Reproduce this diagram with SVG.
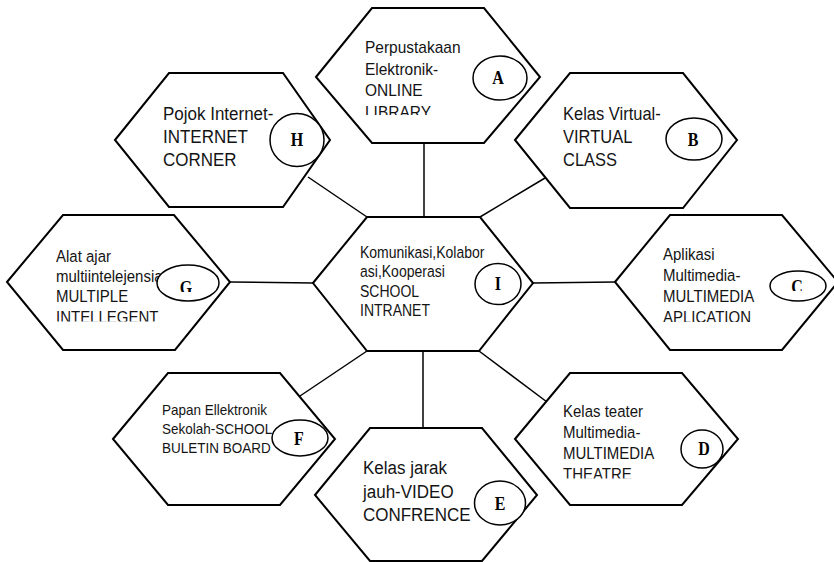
<svg xmlns="http://www.w3.org/2000/svg" width="834" height="562" viewBox="0 0 834 562">
  <style>
    .hex { fill: #fff; stroke: #000; stroke-width: 2; stroke-linejoin: miter; }
    .conn { stroke: #000; stroke-width: 1.5; fill: none; }
    .oval { fill: #fff; stroke: #000; stroke-width: 1.5; }
    .lbl { font-family: "Liberation Sans", Arial, sans-serif; fill: #141414; }
    .tag { font-family: "Liberation Serif", "Times New Roman", serif; font-weight: bold; font-size: 16px; fill: #000; text-anchor: middle; }
  </style>
  <defs>
    <clipPath id="clipA"><rect x="340" y="20" width="150" height="95"/></clipPath>
    <clipPath id="clipG"><rect x="30" y="230" width="160" height="91.5"/></clipPath>
    <clipPath id="clipGtag"><rect x="160" y="270" width="60" height="22"/></clipPath>
    <clipPath id="clipC"><rect x="640" y="230" width="140" height="92"/></clipPath>
    <clipPath id="clipCtag"><rect x="770" y="270" width="60" height="21"/></clipPath>
    <clipPath id="clipD"><rect x="540" y="390" width="150" height="88.5"/></clipPath>
  </defs>

  <rect width="834" height="562" fill="#fff"/>

  <!-- connectors between the hub and the outer cells -->
  <g id="connectors">
    <line class="conn" x1="424" y1="143" x2="424" y2="217"/>
    <line class="conn" x1="308" y1="177" x2="367" y2="217"/>
    <line class="conn" x1="545" y1="178" x2="480" y2="217"/>
    <line class="conn" x1="230" y1="282" x2="313" y2="283"/>
    <line class="conn" x1="533" y1="283" x2="615" y2="282"/>
    <line class="conn" x1="367" y1="351" x2="300" y2="396"/>
    <line class="conn" x1="423" y1="351" x2="423" y2="428"/>
    <line class="conn" x1="479" y1="351" x2="547" y2="402"/>
  </g>

  <!-- text is stretched 1.12x vertically about its own baseline -->
  <g id="node-A">
    <polygon class="hex" points="316,77 372,8 484,8 540,77 484,143 372,143"/>
    <g class="lbl" font-size="15.5" clip-path="url(#clipA)">
      <text x="365" y="53" transform="matrix(1,0,0,1.12,0,-6.36)">Perpustakaan</text>
      <text x="365" y="75" transform="matrix(1,0,0,1.12,0,-9)">Elektronik-</text>
      <text x="365" y="96.5" transform="matrix(1,0,0,1.12,0,-11.58)">ONLINE</text>
      <text x="365" y="118" transform="matrix(1,0,0,1.12,0,-14.16)">LIBRARY</text>
    </g>
    <ellipse class="oval" cx="500" cy="78" rx="27" ry="22"/>
    <text class="tag" x="498" y="84" transform="matrix(1,0,0,1.12,0,-10.08)">A</text>
  </g>

  <g id="node-H">
    <polygon class="hex" points="115,140 169,73 283,73 330,140 283,207 169,207"/>
    <g class="lbl" font-size="17">
      <text x="163" y="120" transform="matrix(1,0,0,1.12,0,-14.4)">Pojok Internet-</text>
      <text x="163" y="143" transform="matrix(1,0,0,1.12,0,-17.16)">INTERNET</text>
      <text x="163" y="166" transform="matrix(1,0,0,1.12,0,-19.92)">CORNER</text>
    </g>
    <ellipse class="oval" cx="297" cy="140" rx="27" ry="26.5"/>
    <text class="tag" x="297" y="146" transform="matrix(1,0,0,1.12,0,-17.52)">H</text>
  </g>

  <g id="node-B">
    <polygon class="hex" points="515,140 570,73 683,73 737,140 683,208 570,208"/>
    <g class="lbl" font-size="16.5">
      <text x="563" y="120" transform="matrix(1,0,0,1.12,0,-14.4)">Kelas Virtual-</text>
      <text x="563" y="143" transform="matrix(1,0,0,1.12,0,-17.16)">VIRTUAL</text>
      <text x="563" y="166" transform="matrix(1,0,0,1.12,0,-19.92)">CLASS</text>
    </g>
    <ellipse class="oval" cx="694" cy="139" rx="28" ry="21"/>
    <text class="tag" x="693" y="146" transform="matrix(1,0,0,1.12,0,-17.52)">B</text>
  </g>

  <g id="node-G">
    <polygon class="hex" points="7,282 63,215 174,215 230,282 175,350 63,350"/>
    <g class="lbl" font-size="15" clip-path="url(#clipG)">
      <text x="56" y="262" transform="matrix(1,0,0,1.12,0,-31.44)">Alat ajar</text>
      <text x="56" y="282" transform="matrix(1,0,0,1.12,0,-33.84)">multiintelejensia-</text>
      <text x="56" y="302" transform="matrix(1,0,0,1.12,0,-36.24)">MULTIPLE</text>
      <text x="56" y="323" transform="matrix(1,0,0,1.12,0,-38.76)">INTELLEGENT</text>
    </g>
    <ellipse class="oval" cx="188" cy="283" rx="31" ry="18"/>
    <g clip-path="url(#clipGtag)">
      <text class="tag" x="186" y="294" transform="matrix(1,0,0,1.12,0,-35.28)">G</text>
    </g>
  </g>

  <g id="node-I">
    <polygon class="hex" points="313,283 367,217 480,217 533,283 479,351 367,351"/>
    <g class="lbl" font-size="14">
      <text x="360" y="258" transform="matrix(1,0,0,1.12,0,-30.96)">Komunikasi,Kolabor</text>
      <text x="360" y="277" transform="matrix(1,0,0,1.12,0,-33.24)">asi,Kooperasi</text>
      <text x="360" y="297" transform="matrix(1,0,0,1.12,0,-35.64)">SCHOOL</text>
      <text x="360" y="316" transform="matrix(1,0,0,1.12,0,-37.92)">INTRANET</text>
    </g>
    <ellipse class="oval" cx="498" cy="284" rx="23" ry="20.5"/>
    <text class="tag" x="498" y="290" transform="matrix(1,0,0,1.12,0,-34.8)">I</text>
  </g>

  <g id="node-C">
    <polygon class="hex" points="615,282 670,215 782,215 838,282 782,350 670,350"/>
    <g class="lbl" font-size="15" clip-path="url(#clipC)">
      <text x="663" y="260" transform="matrix(1,0,0,1.12,0,-31.2)">Aplikasi</text>
      <text x="663" y="281" transform="matrix(1,0,0,1.12,0,-33.72)">Multimedia-</text>
      <text x="663" y="302" transform="matrix(1,0,0,1.12,0,-36.24)">MULTIMEDIA</text>
      <text x="663" y="323" transform="matrix(1,0,0,1.12,0,-38.76)">APLICATION</text>
    </g>
    <ellipse class="oval" cx="798" cy="286" rx="28" ry="15"/>
    <g clip-path="url(#clipCtag)">
      <text class="tag" x="797" y="293" transform="matrix(1,0,0,1.12,0,-35.16)">C</text>
    </g>
  </g>

  <g id="node-F">
    <polygon class="hex" points="113,439 168,373 280,373 335,439 280,505 168,505"/>
    <g class="lbl" font-size="13.5">
      <text x="162" y="415" transform="matrix(1,0,0,1.12,0,-49.8)">Papan Ellektronik</text>
      <text x="162" y="434" transform="matrix(1,0,0,1.12,0,-52.08)">Sekolah-SCHOOL</text>
      <text x="162" y="453" transform="matrix(1,0,0,1.12,0,-54.36)">BULETIN BOARD</text>
    </g>
    <ellipse class="oval" cx="300" cy="438" rx="28" ry="18"/>
    <text class="tag" x="299" y="445" transform="matrix(1,0,0,1.12,0,-53.4)">F</text>
  </g>

  <g id="node-E">
    <polygon class="hex" points="315,495 370,428 482,428 537,495 482,561 370,561"/>
    <g class="lbl" font-size="17">
      <text x="363" y="474" transform="matrix(1,0,0,1.12,0,-56.88)">Kelas jarak</text>
      <text x="363" y="498" transform="matrix(1,0,0,1.12,0,-59.76)">jauh-VIDEO</text>
      <text x="363" y="521" transform="matrix(1,0,0,1.12,0,-62.52)">CONFRENCE</text>
    </g>
    <ellipse class="oval" cx="500" cy="503" rx="25.5" ry="22"/>
    <text class="tag" x="500" y="510" transform="matrix(1,0,0,1.12,0,-61.2)">E</text>
  </g>

  <g id="node-D">
    <polygon class="hex" points="515,439 570,373 682,373 738,439 682,505 570,505"/>
    <g class="lbl" font-size="15" clip-path="url(#clipD)">
      <text x="563" y="417" transform="matrix(1,0,0,1.12,0,-50.04)">Kelas teater</text>
      <text x="563" y="438" transform="matrix(1,0,0,1.12,0,-52.56)">Multimedia-</text>
      <text x="563" y="459" transform="matrix(1,0,0,1.12,0,-55.08)">MULTIMEDIA</text>
      <text x="563" y="480" transform="matrix(1,0,0,1.12,0,-57.6)">THEATRE</text>
    </g>
    <ellipse class="oval" cx="702" cy="449" rx="21" ry="19"/>
    <text class="tag" x="704" y="455" transform="matrix(1,0,0,1.12,0,-54.6)">D</text>
  </g>
</svg>
